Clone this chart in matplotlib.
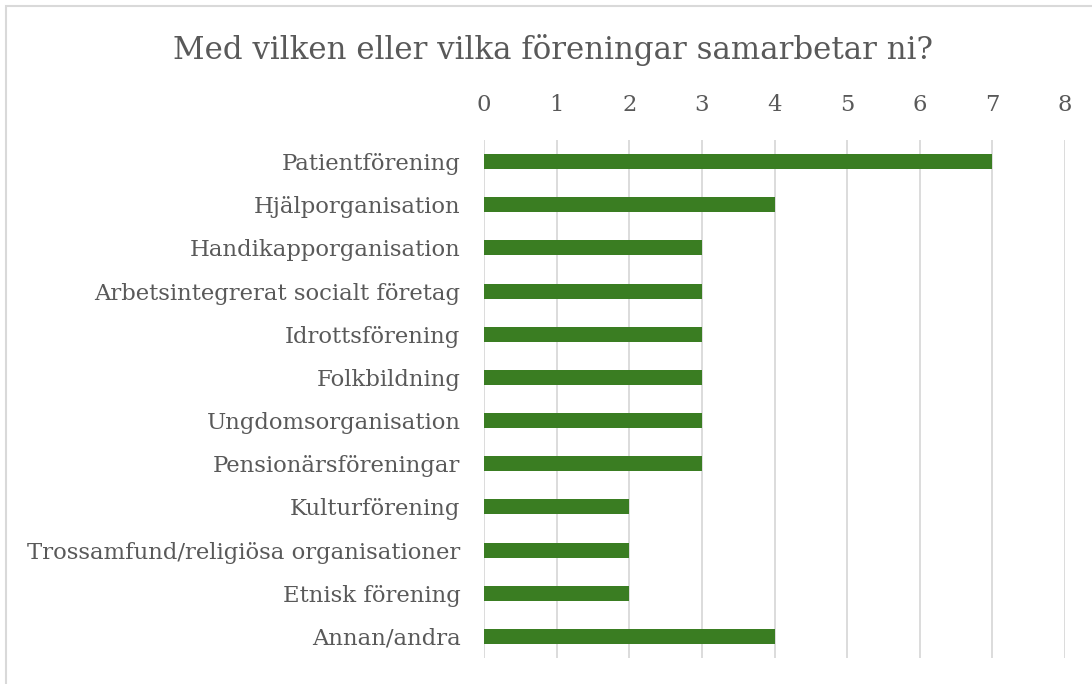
import matplotlib
matplotlib.use("Agg")
import matplotlib.pyplot as plt
from matplotlib.patches import Rectangle

categories = ["Patientförening", "Hjälporganisation", "Handikapporganisation",
              "Arbetsintegrerat socialt företag", "Idrottsförening", "Folkbildning",
              "Ungdomsorganisation", "Pensionärsföreningar", "Kulturförening",
              "Trossamfund/religiösa organisationer", "Etnisk förening", "Annan/andra"]
values = [7, 4, 3, 3, 3, 3, 3, 3, 2, 2, 2, 4]
xticks = [0, 1, 2, 3, 4, 5, 6, 7, 8]
title = "Med vilken eller vilka föreningar samarbetar ni?"

W, H = 1092, 684
fig = plt.figure(figsize=(W/100, H/100), dpi=100)
plt.rcParams['font.family'] = ['DejaVu Serif']
txt = "#595959"

fig.patches.append(Rectangle((6/W, -0.1), 1.2, 1 - 6/H + 0.1, transform=fig.transFigure,
                             fill=False, edgecolor="#d9d9d9", linewidth=1.5))

ax = fig.add_axes([484/W, 1 - 658/H, (1065-484)/W, (658-140)/H])
ypos = list(range(len(categories)))
ax.barh(ypos, values, height=0.35, color="#3a7d22", zorder=3)
ax.set_ylim(len(categories) - 0.5, -0.5)
ax.set_xlim(0, 8)
ax.set_xticks(xticks)
ax.set_xticklabels([str(t) for t in xticks])
ax.set_yticks(ypos)
ax.set_yticklabels(categories)
ax.xaxis.tick_top()
ax.tick_params(axis='x', length=0, pad=17, labelsize=16.4, colors=txt)
ax.tick_params(axis='y', length=0, pad=17, labelsize=16.4, colors=txt)
ax.grid(axis='x', color="#d9d9d9", linewidth=1.3, zorder=0)
for s in ax.spines.values():
    s.set_visible(False)

fig.text(553/W, 1 - 50/H, title, ha='center', va='center', fontsize=22.2, color=txt)
fig.savefig("out.png", dpi=100)
